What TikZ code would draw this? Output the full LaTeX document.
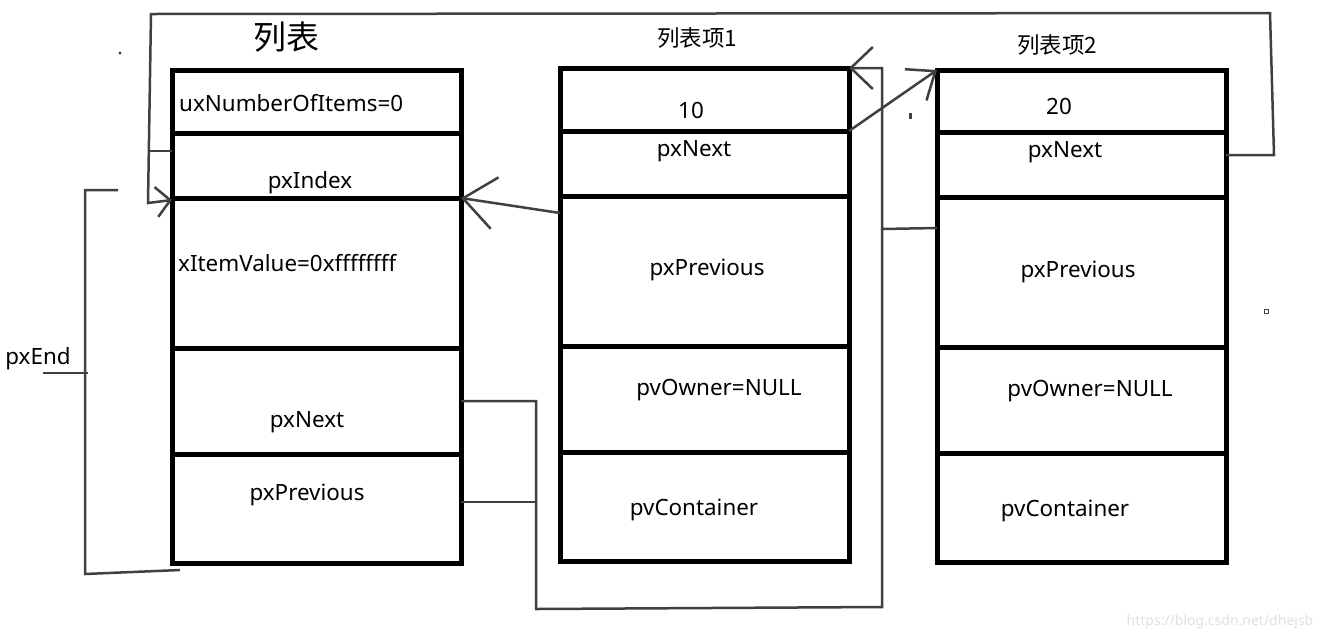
\documentclass[tikz,border=0pt]{standalone}
\usepackage{fontspec}
\setmainfont{Noto Sans}
\newfontfamily\cjk{Noto Sans CJK SC}
\usetikzlibrary{arrows.meta}
\definecolor{wirec}{HTML}{404040}
\begin{document}
\begin{tikzpicture}[x=1pt,y=-1pt,
  cell/.style={draw=black, line width=5pt, minimum width=289pt, inner sep=0pt, outer sep=0pt},
  lbl/.style={font=\fontsize{22.4}{26}\selectfont, inner sep=0pt, text=black, yshift=-2pt},
  wire/.style={draw=wirec, line width=2.5pt, line join=miter},
  tipA/.style={-{Straight Barb[length=14pt,width=30pt,line width=2.5pt]}},
  tipB/.style={-{Straight Barb[length=32pt,width=52pt,line width=2.5pt]}},
  tipC/.style={-{Straight Barb[length=24pt,width=38pt,line width=2.5pt]}},
  tipD/.style={-{Straight Barb[length=22pt,width=42pt,line width=2.5pt]}}]
\useasboundingbox (0,0) rectangle (1324,641);
\fill[white] (0,0) rectangle (1324,641);

% titles
\node[inner sep=0pt, font=\cjk\fontsize{33}{37}\selectfont] (t1) at (286,37) {列表};
\node[inner sep=0pt, font=\cjk\fontsize{22.5}{26}\selectfont] (t2) at (697,38) {列表项1};
\node[inner sep=0pt, font=\cjk\fontsize{22.5}{26}\selectfont] (t3) at (1057,45) {列表项2};

% list box
\node[cell, minimum height=63pt]  (l1) at (316.5,101.5) {};
\node[cell, minimum height=65pt]  (l2) at (316.5,165.5) {};
\node[cell, minimum height=150pt] (l3) at (316.5,273) {};
\node[cell, minimum height=106pt] (l4) at (316.5,401) {};
\node[cell, minimum height=109pt] (l5) at (316.5,508.5) {};
% item 1
\node[cell, minimum height=63pt]  (m1) at (704.5,99.5) {};
\node[cell, minimum height=65pt]  (m2) at (704.5,163.5) {};
\node[cell, minimum height=150pt] (m3) at (704.5,271) {};
\node[cell, minimum height=106pt] (m4) at (704.5,399) {};
\node[cell, minimum height=109pt] (m5) at (704.5,506.5) {};
% item 2
\node[cell, minimum height=62pt]  (r1) at (1081.5,101) {};
\node[cell, minimum height=65pt]  (r2) at (1081.5,164.5) {};
\node[cell, minimum height=150pt] (r3) at (1081.5,272) {};
\node[cell, minimum height=106pt] (r4) at (1081.5,400) {};
\node[cell, minimum height=109pt] (r5) at (1081.5,507.5) {};

% texts list
\node[lbl, anchor=west] (x1) at (179,101) {uxNumberOfItems=0};
\node[lbl] (x2) at (310,181) {pxIndex};
\node[lbl, anchor=west] (x3) at (178,261) {xItemValue=0xffffffff};
\node[lbl] (x4) at (307,420) {pxNext};
\node[lbl] (x5) at (307,493) {pxPrevious};
% texts item 1
\node[lbl] (y1) at (691,108) {10};
\node[lbl] (y2) at (694,149) {pxNext};
\node[lbl] (y3) at (707,268) {pxPrevious};
\node[lbl] (y4) at (719,388) {pvOwner=NULL};
\node[lbl] (y5) at (694,508) {pvContainer};
% texts item 2
\node[lbl] (z1) at (1059,104) {20};
\node[lbl] (z2) at (1065,150) {pxNext};
\node[lbl] (z3) at (1078,270) {pxPrevious};
\node[lbl] (z4) at (1090,389) {pvOwner=NULL};
\node[lbl] (z5) at (1065,509) {pvContainer};
\node[lbl] (pe) at (38,357) {pxEnd};

% bend points
\coordinate (a1) at (1274,155);
\coordinate (a2) at (1270,13);
\coordinate (a3) at (151,14);
\coordinate (a4) at (148,203);
\coordinate (s1) at (148,151);
\coordinate (d1) at (882,229);
\coordinate (d2) at (882,68);
\coordinate (e1) at (536,401);
\coordinate (e2) at (536,609);
\coordinate (e3) at (882,607);
\coordinate (f1) at (536,502);
\coordinate (b1) at (118,190);
\coordinate (b2) at (85,190);
\coordinate (b3) at (85,574);
\coordinate (b4) at (180,570);
\coordinate (k1) at (43,373);
\coordinate (k2) at (88,373);

% connectors
\draw[wire, tipA] ([yshift=9.5pt]r2.east) -- (a1) -- (a2) -- (a3) -- (a4) -- ([yshift=-2pt]l3.north west);
\draw[wire] (s1) -- ([yshift=14.5pt]l2.west);
\draw[wire, tipB] ([yshift=58pt]m3.west) -- (l3.north east);
\draw[wire, tipC] (m2.north east) -- (r1.north west);
\draw[wire, tipD] ([yshift=44pt]r3.west) -- (d1) -- (d2) -- (m1.north east);
\draw[wire] (l4.east) -- (e1) -- (e2) -- (e3) -- (d1);
\draw[wire] ([yshift=6.5pt]l5.east) -- (f1);
\draw[wire] (b1) -- (b2) -- (b3) -- (b4);
\draw[wire] (k1) -- (k2);

% stray marks
\fill[wirec] (120,53) circle (1.6);
\fill[wirec] (908.5,113) rectangle (911.5,119);
\draw[wirec, line width=1pt] (1264,309) rectangle (1268,313);

% watermark
\node[inner sep=0pt, text=black!12, font=\fontsize{14}{16}\selectfont] (wm) at (1220,622) {https://blog.csdn.net/dhejsb};
\end{tikzpicture}
\end{document}
